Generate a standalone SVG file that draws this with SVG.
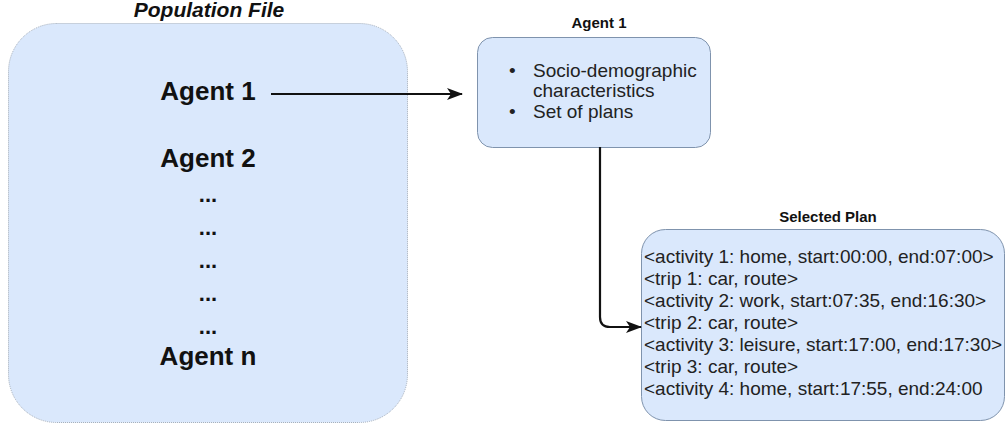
<svg xmlns="http://www.w3.org/2000/svg" width="1008" height="429" viewBox="0 0 1008 429">
  <style>
    .box { fill: #dae8fc; stroke: #7f93ad; stroke-width: 1; }
    .pop { fill: #dae8fc; stroke: #a3adba; stroke-width: 1; stroke-dasharray: 1 1; }
    .big { font-family: "Liberation Sans", Arial, sans-serif; font-weight: bold; font-size: 26px; fill: #111; text-anchor: middle; }
    .dots { font-family: "Liberation Sans", Arial, sans-serif; font-weight: bold; font-size: 22px; fill: #111; text-anchor: middle; }
    .title { font-family: "Liberation Sans", Arial, sans-serif; font-weight: bold; font-size: 15px; fill: #111; text-anchor: middle; }
    .txt { font-family: "Liberation Sans", Arial, sans-serif; font-size: 19px; fill: #222; }
    .conn { fill: none; stroke: #111; stroke-width: 2.2; }
  </style>
  <defs>
    <marker id="arr2" viewBox="0 0 16 12" refX="15" refY="6" markerWidth="16" markerHeight="12" markerUnits="userSpaceOnUse" orient="auto">
      <path d="M0,0 L16,6 L0,12 L4,6 Z" fill="#111"/>
    </marker>
  </defs>

  <g id="population-file">
    <text x="209" y="17" font-family="Liberation Sans, Arial, sans-serif" font-weight="bold" font-style="italic" font-size="21" fill="#111" text-anchor="middle">Population File</text>
    <rect class="pop" x="8.5" y="23.5" width="399" height="399" rx="48" ry="48"/>
    <text class="big" x="208" y="100">Agent 1</text>
    <text class="big" x="208" y="167">Agent 2</text>
    <text class="dots" x="208" y="202">...</text>
    <text class="dots" x="208" y="235">...</text>
    <text class="dots" x="208" y="268">...</text>
    <text class="dots" x="208" y="301">...</text>
    <text class="dots" x="208" y="334">...</text>
    <text class="big" x="208" y="365">Agent n</text>
  </g>

  <g id="agent1">
    <text class="title" x="599" y="28">Agent 1</text>
    <rect class="box" x="477.5" y="37.5" width="233" height="110" rx="15" ry="15"/>
    <text class="txt" x="509" y="77">•</text>
    <text class="txt" x="533" y="77">Socio-demographic</text>
    <text class="txt" x="533" y="97">characteristics</text>
    <text class="txt" x="509" y="118">•</text>
    <text class="txt" x="533" y="118">Set of plans</text>
  </g>

  <g id="selected-plan">
    <text class="title" x="828" y="222">Selected Plan</text>
    <rect class="box" x="641.5" y="229.5" width="363" height="191" rx="24" ry="24"/>
    <text class="txt" x="644" y="263">&lt;activity 1: home, start:00:00, end:07:00&gt;</text>
    <text class="txt" x="644" y="285">&lt;trip 1: car, route&gt;</text>
    <text class="txt" x="644" y="307">&lt;activity 2: work, start:07:35, end:16:30&gt;</text>
    <text class="txt" x="644" y="329">&lt;trip 2: car, route&gt;</text>
    <text class="txt" x="644" y="351">&lt;activity 3: leisure, start:17:00, end:17:30&gt;</text>
    <text class="txt" x="644" y="373">&lt;trip 3: car, route&gt;</text>
    <text class="txt" x="644" y="395">&lt;activity 4: home, start:17:55, end:24:00</text>
  </g>

  <g id="connectors">
    <path class="conn" d="M271,94 H462" marker-end="url(#arr2)"/>
    <path class="conn" d="M600,147 V317 Q600,327 610,327 H641" marker-end="url(#arr2)"/>
  </g>
</svg>
